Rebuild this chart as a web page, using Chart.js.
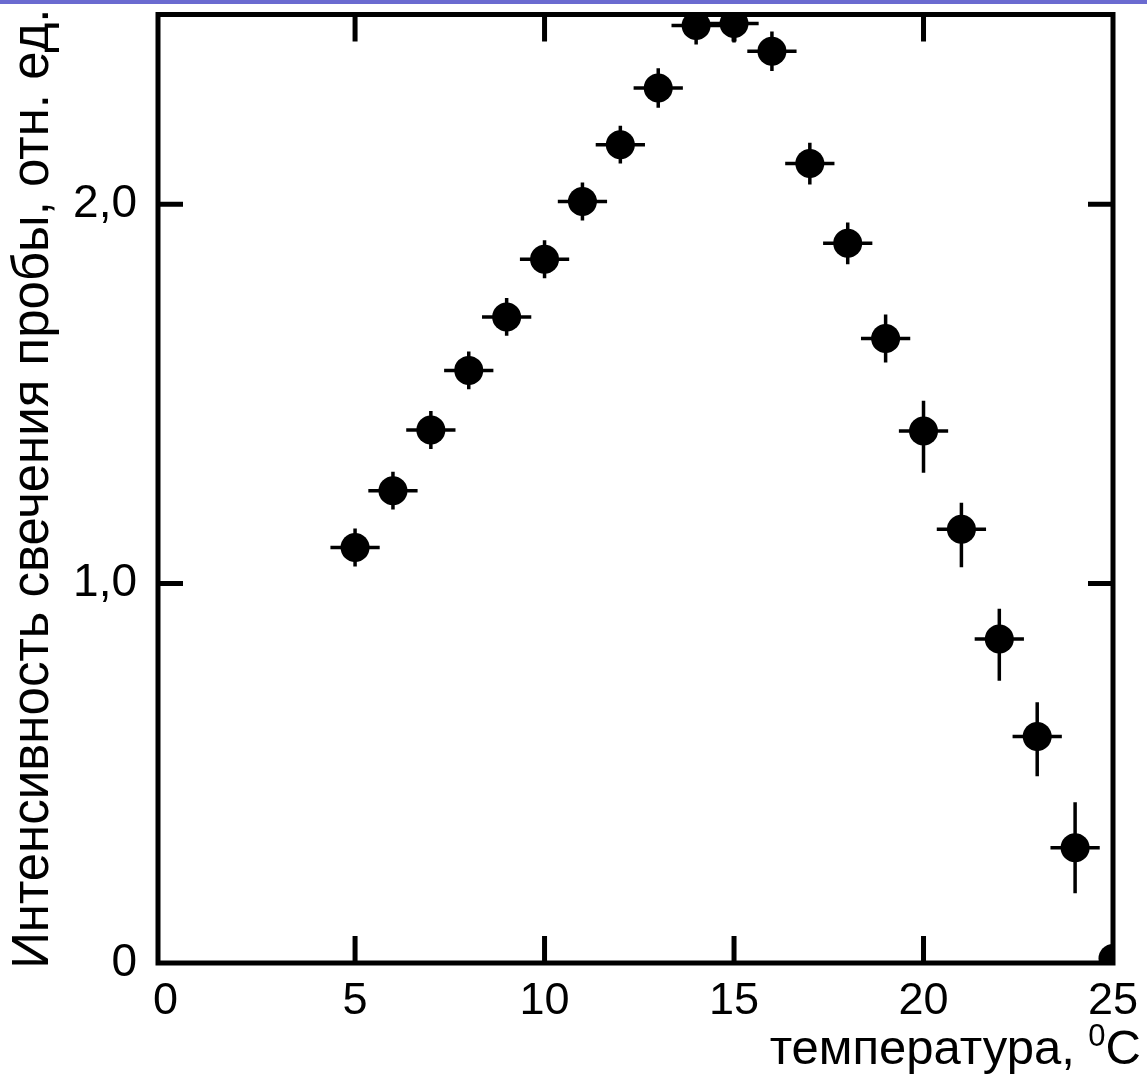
<!DOCTYPE html>
<html><head><meta charset="utf-8">
<script src="https://cdn.jsdelivr.net/npm/chart.js@4/dist/chart.umd.min.js"></script>
<style>
html,body{margin:0;padding:0;background:#fff;overflow:hidden}
#bar{position:absolute;left:0;top:0;width:1147px;height:4px;background:#6b6bd0}
canvas{display:block}
</style></head><body>
<canvas id="c" width="1147" height="1077"></canvas>
<div id="bar"></div>
<script>
// temperature, °C
const temperatures = [5,6,7,8,9,10,11,12,13,14,15,16,17,18,19,20,21,22,23,24,25];
// glow intensity, rel. units
const intensity = [1.095,1.245,1.405,1.562,1.703,1.855,2.007,2.157,2.306,2.471,2.476,2.403,2.107,1.897,1.646,1.402,1.143,0.854,0.597,0.304,0.012];
// horizontal error (°C)
const xErr = [0.65,0.65,0.65,0.65,0.65,0.65,0.65,0.65,0.65,0.65,0.65,0.65,0.65,0.65,0.65,0.65,0.65,0.65,0.65,0.65,0];
// vertical errors (up / down)
const yErrUp   = [0.05,0.05,0.05,0.05,0.05,0.05,0.05,0.05,0.052,0.05,0.05,0.052,0.055,0.055,0.063,0.08,0.07,0.08,0.09,0.12,0];
const yErrDown = [0.05,0.05,0.05,0.05,0.05,0.05,0.05,0.05,0.052,0.05,0.05,0.052,0.055,0.055,0.063,0.11,0.10,0.11,0.105,0.12,0];
const xTicks = [0,5,10,15,20,25];
const yTicks = [0,1,2];
const yTickLabels = ['0','1,0','2,0'];
const xTitle = 'температура, ';
const xTitleSup = '0';
const xTitleUnit = 'C';
const yTitle = 'Интенсивность свечения пробы, отн. ед.';

const FONT = '"Liberation Sans", Arial, sans-serif';

const decor = {
  id: 'decor',
  beforeDatasetsDraw(chart) {
    const {ctx, chartArea: a, scales: {x, y}} = chart;
    ctx.save();
    ctx.beginPath();
    ctx.rect(a.left, a.top, a.right - a.left, a.bottom - a.top);
    ctx.clip();
    ctx.strokeStyle = '#000';
    ctx.lineWidth = 3.5;
    ctx.lineCap = 'butt';
    temperatures.forEach((t, i) => {
      const v = intensity[i];
      const px = x.getPixelForValue(t), py = y.getPixelForValue(v);
      if (xErr[i] > 0) {
        ctx.beginPath();
        ctx.moveTo(x.getPixelForValue(t - xErr[i]), py);
        ctx.lineTo(x.getPixelForValue(t + xErr[i]), py);
        ctx.stroke();
      }
      if (yErrUp[i] > 0 || yErrDown[i] > 0) {
        ctx.beginPath();
        ctx.moveTo(px, y.getPixelForValue(v + yErrUp[i]));
        ctx.lineTo(px, y.getPixelForValue(v - yErrDown[i]));
        ctx.stroke();
      }
    });
    ctx.restore();
  },
  afterDatasetsDraw(chart) {
    const {ctx, chartArea: a, scales: {x, y}} = chart;
    ctx.save();
    ctx.strokeStyle = '#000';
    ctx.lineWidth = 5;
    ctx.lineJoin = 'miter';
    ctx.strokeRect(a.left, a.top, a.right - a.left, a.bottom - a.top);
    const tl = 27;
    xTicks.forEach(v => {
      if (v <= 0 || v >= 25) return;
      const px = x.getPixelForValue(v);
      ctx.beginPath();
      ctx.moveTo(px, a.bottom); ctx.lineTo(px, a.bottom - tl);
      ctx.moveTo(px, a.top); ctx.lineTo(px, a.top + tl);
      ctx.stroke();
    });
    yTicks.forEach(v => {
      if (v <= y.min || v >= y.max) return;
      const py = y.getPixelForValue(v);
      ctx.beginPath();
      ctx.moveTo(a.left, py); ctx.lineTo(a.left + tl - 2, py);
      ctx.moveTo(a.right, py); ctx.lineTo(a.right - tl + 2, py);
      ctx.stroke();
    });
    // x title with superscript
    ctx.fillStyle = '#000';
    ctx.textBaseline = 'alphabetic';
    ctx.textAlign = 'left';
    const mainFont = '49px ' + FONT, supFont = '31px ' + FONT;
    ctx.font = mainFont;
    const w1 = ctx.measureText(xTitle).width;
    const w3 = ctx.measureText(xTitleUnit).width;
    ctx.font = supFont;
    const w2 = ctx.measureText(xTitleSup).width;
    const right = 1141, base = 1064;
    let sx = right - (w1 + w2 + w3);
    ctx.font = mainFont;
    ctx.fillText(xTitle, sx, base);
    ctx.font = supFont;
    ctx.fillText(xTitleSup, sx + w1, base - 18);
    ctx.font = mainFont;
    ctx.fillText(xTitleUnit, sx + w1 + w2, base);
    // y title rotated
    ctx.translate(48, (a.top + a.bottom) / 2);
    ctx.rotate(-Math.PI / 2);
    ctx.font = '51px ' + FONT;
    ctx.textAlign = 'center';
    ctx.fillText(yTitle, 0, 0);
    ctx.restore();
  }
};

function noPad(s) { s.paddingTop = 0; s.paddingBottom = 0; s.paddingLeft = 0; s.paddingRight = 0; }

new Chart(document.getElementById('c'), {
  type: 'scatter',
  data: {
    datasets: [{
      data: temperatures.map((t, i) => ({x: t, y: intensity[i]})),
      pointRadius: 14.5,
      pointHoverRadius: 14.5,
      pointBackgroundColor: '#000',
      pointBorderWidth: 0,
      showLine: false,
      clip: 0
    }]
  },
  options: {
    responsive: false,
    devicePixelRatio: 1,
    animation: false,
    events: [],
    layout: {padding: {top: 9, right: 34, left: 0, bottom: 0}},
    plugins: {legend: {display: false}, tooltip: {enabled: false}, title: {display: false}},
    scales: {
      x: {
        type: 'linear', min: -0.2, max: 25,
        afterBuildTicks: s => { s.ticks = xTicks.map(v => ({value: v})); },
        afterFit: s => { s.height = 114; noPad(s); },
        grid: {display: false, drawTicks: false},
        border: {display: false},
        ticks: {color: '#000', font: {size: 45, family: FONT}, padding: 12, maxRotation: 0, autoSkip: false,
          callback: v => String(v)}
      },
      y: {
        type: 'linear', min: 0, max: 2.5,
        afterBuildTicks: s => { s.ticks = yTicks.map(v => ({value: v})); },
        afterFit: s => { s.width = 158; noPad(s); },
        grid: {display: false, drawTicks: false},
        border: {display: false},
        ticks: {color: '#000', font: {size: 46, family: FONT}, padding: 21, autoSkip: false,
          callback: v => yTickLabels[yTicks.indexOf(v)]}
      }
    }
  },
  plugins: [decor]
});
</script>
</body></html>
